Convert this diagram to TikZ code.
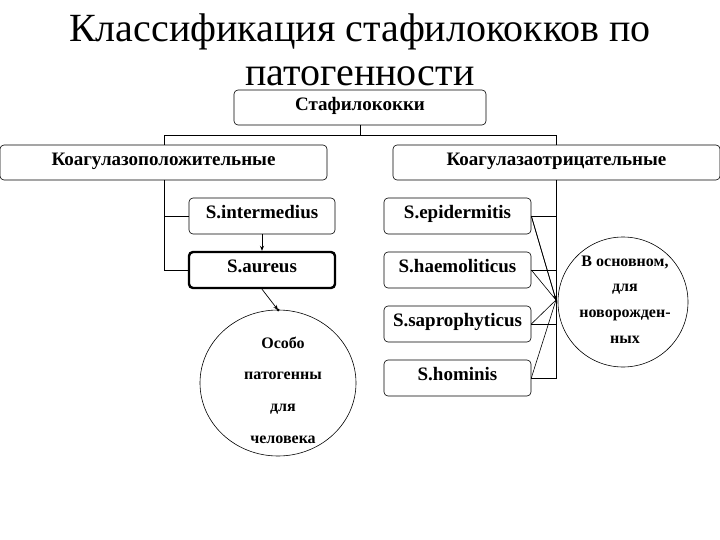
\documentclass[tikz,border=0pt]{standalone}
\usepackage{fontspec}
\setmainfont{Liberation Serif}
\usetikzlibrary{arrows.meta,shapes.geometric}
\begin{document}
\begin{tikzpicture}[x=1pt,y=-1pt,
  box/.style={draw,rounded corners=4pt,line width=0.6pt,font=\bfseries\fontsize{19}{21}\selectfont,inner sep=0pt,text height=1.45ex,text depth=0.35ex},
  ln/.style={line width=0.9pt},
  arr/.style={line width=0.7pt,-{Stealth[length=5pt,width=4pt]}},
  etext/.style={font=\bfseries\fontsize{16}{18}\selectfont}]
\useasboundingbox[fill=white] (0,0) rectangle (720,540);
\node[font=\fontsize{40}{44}\selectfont,align=center] (title) at (360,50) {Классификация стафилококков по\\патогенности};
\node[box,fill=white,minimum width=252pt,minimum height=35pt] (st) at (360,107.5) {Стафилококки};
\node[box,minimum width=327pt,minimum height=35pt] (pos) at (163.5,162.5) {Коагулазоположительные};
\node[box,minimum width=327pt,minimum height=35pt] (neg) at (556.5,162.5) {Коагулазаотрицательные};
\node[box,minimum width=146pt,minimum height=36pt] (int) at (262,216) {S.intermedius};
\node[box,line width=2.4pt,minimum width=146pt,minimum height=36pt] (aur) at (262,270) {S.aureus};
\node[box,minimum width=147pt,minimum height=36pt] (epi) at (457.5,216) {S.epidermitis};
\node[box,minimum width=147pt,minimum height=36pt] (hae) at (457.5,270) {S.haemoliticus};
\node[box,minimum width=147pt,minimum height=36pt] (sap) at (457.5,324) {S.saprophyticus};
\node[box,minimum width=147pt,minimum height=36pt] (hom) at (457.5,378) {S.hominis};
\node[draw,ellipse,line width=0.6pt,minimum width=156pt,minimum height=146pt] (e1) at (278,383) {};
\node[etext] (o1) at (283,343) {Особо};
\node[etext] (o2) at (283,376) {патогенны};
\node[etext] (o3) at (283,409) {для};
\node[etext] (o4) at (283,440) {человека};
\node[draw,ellipse,line width=0.6pt,minimum width=130pt,minimum height=130pt] (e2) at (623,302) {};
\node[etext] (b1) at (625,262) {В основном,};
\node[etext] (b2) at (625,289) {для};
\node[etext] (b3) at (625,315) {новорожден-};
\node[etext] (b4) at (625,340) {ных};
\coordinate (j) at (556,300);
\coordinate (tp) at (278,310);
\draw[ln] (st.south) -- (360,135);
\draw[ln] (164,145) |- (556,135) -- (556,145);
\draw[ln] (164,180) -- (164,270) -- (aur.west);
\draw[ln] (164,216) -- (int.west);
\draw[arr] (int.south) -- (aur.north);
\draw[ln] (556,180) -- (556,378) -- (hom.east);
\foreach \n in {epi,hae,sap} \draw[ln] (\n.east) -- (556,0 |- \n.east);
\foreach \n in {epi,hae,sap,hom} \draw[line width=0.6pt] (\n.east) -- (j);
\draw[arr] (epi.east) -- (j);
\draw[arr] (aur.south) -- (tp);
\fill (tp) circle (1.5pt);
\end{tikzpicture}
\end{document}
